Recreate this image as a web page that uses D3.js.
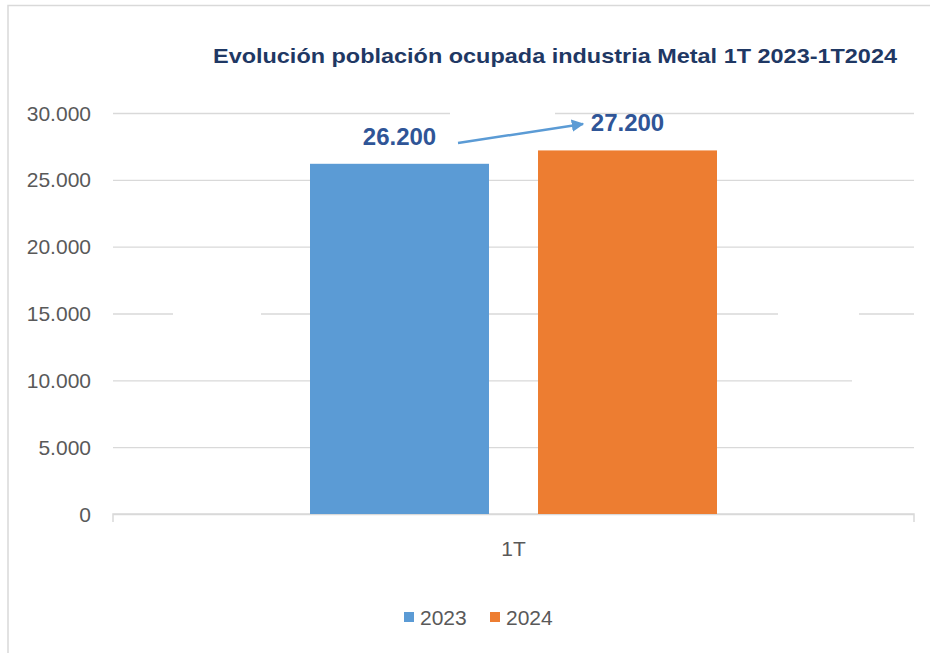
<!DOCTYPE html>
<html>
<head>
<meta charset="utf-8">
<script src="https://cdn.jsdelivr.net/npm/d3@7"></script>
<style>
  body { margin: 0; background: #fff; }
  svg { display: block; font-family: "Liberation Sans", Arial, sans-serif; }
</style>
</head>
<body>
<script>
// data
var categories = ['1T'];
var seriesNames = ['2023', '2024'];
var values2023 = [26200];
var values2024 = [27200];
var yTicks = [0, 5000, 10000, 15000, 20000, 25000, 30000];
var colors = ['#5B9BD5', '#ED7D31'];

var width = 930, height = 653;
var margin = { top: 113, right: 16, bottom: 139, left: 113 };

var svg = d3.select('body').append('svg')
    .attr('width', width)
    .attr('height', height);

// frame of the pasted chart
svg.append('path')
    .attr('d', 'M8,653 V5.5 H930')
    .attr('fill', 'none')
    .attr('stroke', '#D9D9D9')
    .attr('stroke-width', 1.5);

var x0 = d3.scaleBand()
    .domain(categories)
    .range([margin.left, width - margin.right])
    .paddingInner(0)
    .paddingOuter(0);

var x1 = d3.scaleBand()
    .domain(seriesNames)
    .range([0, x0.bandwidth()])
    .paddingInner(0.215)
    .paddingOuter(0.864);

var y = d3.scaleLinear()
    .domain([0, 30000])
    .range([height - margin.bottom, margin.top]);

var fmt = function(v) { return d3.format(',')(v).replace(/,/g, '.'); };

// gridlines
var grid = svg.append('g')
    .attr('transform', 'translate(' + margin.left + ',0)')
    .call(d3.axisLeft(y).tickValues(yTicks).tickSize(-(width - margin.left - margin.right)).tickFormat(''));
grid.select('.domain').remove();
grid.selectAll('line').attr('stroke', '#D9D9D9').attr('stroke-width', 1.3);

// white gaps in the gridlines seen in the source image
var gaps = [
  { v: 30000, a: 450, b: 555 },
  { v: 15000, a: 173, b: 261 },
  { v: 15000, a: 778, b: 859 },
  { v: 10000, a: 852, b: 916 }
];
svg.selectAll('rect.gap')
    .data(gaps)
    .enter()
    .append('rect')
    .attr('class', 'gap')
    .attr('x', function(d) { return d.a; })
    .attr('y', function(d) { return y(d.v) - 2; })
    .attr('width', function(d) { return d.b - d.a; })
    .attr('height', 4)
    .attr('fill', '#fff');

// y labels
svg.selectAll('text.ytick')
    .data(yTicks)
    .enter()
    .append('text')
    .attr('class', 'ytick')
    .attr('x', 91)
    .attr('y', function(d) { return y(d); })
    .attr('dy', '0.36em')
    .attr('text-anchor', 'end')
    .attr('font-size', 21)
    .attr('fill', '#595959')
    .text(function(d) { return fmt(d); });

// baseline with end ticks
var x0L = margin.left, x0R = width - margin.right;
svg.append('path')
    .attr('d', 'M' + x0L + ',' + (y(0) + 8) + ' V' + y(0) + ' H' + x0R + ' V' + (y(0) + 8))
    .attr('fill', 'none')
    .attr('stroke', '#D9D9D9')
    .attr('stroke-width', 1.5);

// bars
var rows = categories.map(function(c, i) {
  return { cat: c, vals: [values2023[i], values2024[i]] };
});

var groups = svg.selectAll('g.cat')
    .data(rows)
    .enter()
    .append('g')
    .attr('class', 'cat')
    .attr('transform', function(d) { return 'translate(' + x0(d.cat) + ',0)'; });

groups.selectAll('rect')
    .data(function(d) { return d.vals.map(function(v, j) { return { name: seriesNames[j], v: v, j: j }; }); })
    .enter()
    .append('rect')
    .attr('x', function(d) { return x1(d.name); })
    .attr('y', function(d) { return y(d.v); })
    .attr('width', x1.bandwidth())
    .attr('height', function(d) { return y(0) - y(d.v); })
    .attr('fill', function(d) { return colors[d.j]; });

// value labels
var cx = function(i, j) { return x0(categories[i]) + x1(seriesNames[j]) + x1.bandwidth() / 2; };
var labelOffsets = [19, 19];
[values2023, values2024].forEach(function(arr, j) {
  svg.append('text')
      .attr('x', cx(0, j))
      .attr('y', y(arr[0]) - labelOffsets[j])
      .attr('text-anchor', 'middle')
      .attr('font-size', 24)
      .attr('font-weight', 'bold')
      .attr('fill', '#2F5597')
      .text(fmt(arr[0]));
});

// arrow between labels
svg.append('defs').append('marker')
    .attr('id', 'head')
    .attr('viewBox', '0 0 10 10')
    .attr('refX', 9)
    .attr('refY', 5)
    .attr('markerWidth', 5)
    .attr('markerHeight', 5)
    .attr('orient', 'auto')
    .attr('markerUnits', 'strokeWidth')
  .append('path')
    .attr('d', 'M0,0 L10,5 L0,10 z')
    .attr('fill', '#5B9BD5');

svg.append('line')
    .attr('x1', 458)
    .attr('y1', 143)
    .attr('x2', 583)
    .attr('y2', 124)
    .attr('stroke', '#5B9BD5')
    .attr('stroke-width', 2.5)
    .attr('marker-end', 'url(#head)');

// category label
svg.selectAll('text.cat')
    .data(categories)
    .enter()
    .append('text')
    .attr('class', 'cat')
    .attr('x', function(d) { return x0(d) + x0.bandwidth() / 2; })
    .attr('y', 556)
    .attr('text-anchor', 'middle')
    .attr('font-size', 21)
    .attr('fill', '#595959')
    .text(function(d) { return d; });

// title
svg.append('text')
    .attr('x', 213)
    .attr('y', 63)
    .attr('font-size', 21)
    .attr('font-weight', 'bold')
    .attr('fill', '#1F3864')
    .attr('textLength', 684)
    .attr('lengthAdjust', 'spacingAndGlyphs')
    .text('Evolución población ocupada industria Metal 1T 2023-1T2024');

// legend
var legendX = [404, 490];
var leg = svg.selectAll('g.leg')
    .data(seriesNames)
    .enter()
    .append('g')
    .attr('class', 'leg')
    .attr('transform', function(d, i) { return 'translate(' + legendX[i] + ',617)'; });
leg.append('rect')
    .attr('x', 0).attr('y', -5)
    .attr('width', 10).attr('height', 10)
    .attr('fill', function(d, i) { return colors[i]; });
leg.append('text')
    .attr('x', 16)
    .attr('dy', '0.36em')
    .attr('font-size', 21)
    .attr('fill', '#595959')
    .text(function(d) { return d; });
</script>
</body>
</html>
